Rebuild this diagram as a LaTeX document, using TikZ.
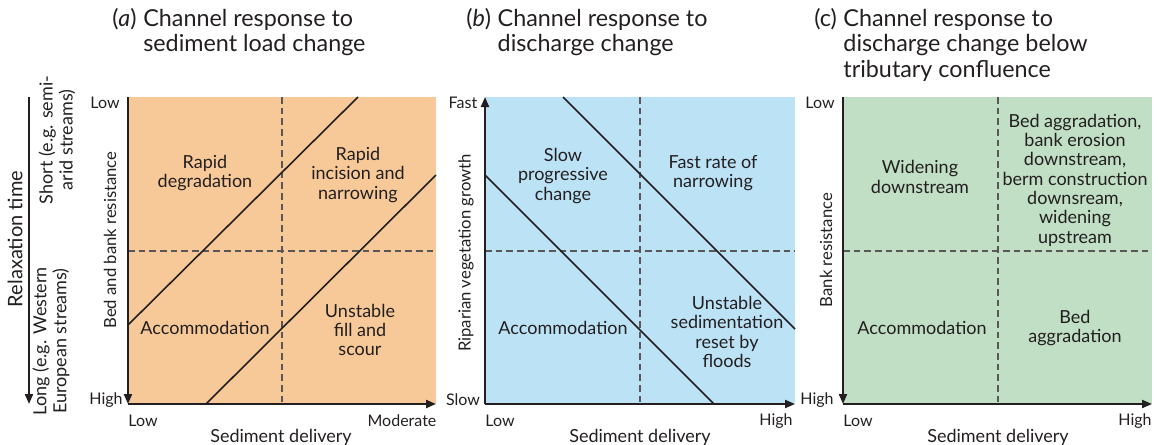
\documentclass[tikz,border=0pt]{standalone}
\usepackage{fontspec}
\setmainfont{Lato}
\usepackage{xcolor}
\usetikzlibrary{arrows.meta}
\definecolor{sandfill}{RGB}{247,201,153}
\definecolor{skyfill}{RGB}{188,226,246}
\definecolor{mossfill}{RGB}{192,223,197}
\definecolor{ink}{RGB}{35,31,32}

\begin{document}
\begin{tikzpicture}[x=0.75pt,y=-0.75pt,>={Triangle[length=7.5pt,width=6pt]},
  axis/.style={line width=1.5pt,->,draw=ink},
  quad/.style={line width=1.1pt,draw=ink!75,dash pattern=on 5pt off 3pt},
  trend/.style={line width=1.2pt,draw=ink},
  lab/.style={font=\fontsize{13.5}{14.5}\selectfont,align=center,text=ink,inner sep=0pt},
  tck/.style={font=\fontsize{12}{14}\selectfont,text=ink,inner sep=0pt},
  side/.style={font=\fontsize{12.5}{14.5}\selectfont,align=center,text=ink,rotate=90,inner sep=0pt},
  ttl/.style={font=\fontsize{17.5}{19}\selectfont,text=ink,anchor=north west,inner sep=0pt}]
\useasboundingbox (0,0) rectangle (1158,444);

% titles
\node[ttl] (ttlA) at (112,8) {\begin{tabular}{@{}l@{\hspace{5pt}}l@{}}(\textit{a}) & Channel response to\\ & sediment load change\end{tabular}};
\node[ttl] (ttlB) at (466,8) {\begin{tabular}{@{}l@{\hspace{5pt}}l@{}}(\textit{b}) & Channel response to\\ & discharge change\end{tabular}};
\node[ttl] (ttlC) at (814,8) {\begin{tabular}{@{}l@{\hspace{5pt}}l@{}}(c) & Channel response to\\ & discharge change below\\ & tributary confluence\end{tabular}};

% relaxation time axis
\coordinate (rtTop) at (29,97);
\coordinate (rtBot) at (29,404);
\draw[axis] (rtTop) -- (rtBot);
\node[side,font=\fontsize{15}{17}\selectfont] (rtLab) at (15,239) {Relaxation time};
\node[side,font=\fontsize{13.5}{15}\selectfont] (rtShort) at (57,140) {Short (e.g. semi-\\arid streams)};
\node[side,font=\fontsize{13.5}{15}\selectfont] (rtLong) at (51,341) {Long (e.g. Western\\European streams)};

% (a) sediment load change
\coordinate (aNW) at (128,97);
\coordinate (aSW) at (128,404);
\coordinate (aSE) at (436,404);
\fill[sandfill] (aNW) rectangle (aSE);
\draw[quad] (282,97) -- (282,404);
\draw[quad] (128,251) -- (436,251);
\draw[trend] (128,325) -- (358,97);
\draw[trend] (206,404) -- (436,175);
\draw[axis] (aNW) -- (aSW);
\draw[axis] (aSW) -- (aSE);
\node[tck] (aLow) at (105,103) {Low};
\node[tck] (aHigh) at (106,400) {High};
\node[tck] (aXlow) at (143,421) {Low};
\node[tck] (aXmod) at (402,421) {Moderate};
\node[lab] (aXlab) at (281,437) {Sediment delivery};
\node[side] (aYlab) at (110,240) {Bed and bank resistance};
\node[lab] (degr) at (205,173) {Rapid\\degradation};
\node[lab] (incis) at (358,175) {Rapid\\incision and\\narrowing};
\node[lab] (accA) at (205,328) {Accommodation};
\node[lab] (scour) at (360,330) {Unstable\\fill and\\scour};

% (b) discharge change
\coordinate (bNW) at (485,97);
\coordinate (bSW) at (485,404);
\coordinate (bSE) at (795,404);
\fill[skyfill] (bNW) rectangle (bSE);
\draw[quad] (640,97) -- (640,404);
\draw[quad] (485,251) -- (795,251);
\draw[trend] (563,97) -- (795,329);
\draw[trend] (485,175) -- (714,404);
\draw[axis] (bSW) -- (bNW);
\draw[axis] (bSW) -- (bSE);
\node[tck] (bFast) at (463,103) {Fast};
\node[tck] (bSlow) at (463,400) {Slow};
\node[tck] (bXlow) at (500,421) {Low};
\node[tck] (bXhigh) at (776,421) {High};
\node[lab] (bXlab) at (640,437) {Sediment delivery};
\node[side] (bYlab) at (466,253) {Riparian vegetation growth};
\node[lab] (slowch) at (563,176) {Slow\\progressive\\change};
\node[lab] (fastn) at (713,173) {Fast rate of\\narrowing};
\node[lab] (accB) at (563,328) {Accommodation};
\node[lab] (floods) at (727,332) {Unstable\\sedimentation\\reset by\\floods};

% (c) below tributary confluence
\coordinate (cNW) at (843,97);
\coordinate (cSW) at (843,404);
\coordinate (cSE) at (1152,404);
\fill[mossfill] (cNW) rectangle (cSE);
\draw[quad] (998,97) -- (998,404);
\draw[quad] (843,251) -- (1152,251);
\draw[axis] (cNW) -- (cSW);
\draw[axis] (cSW) -- (cSE);
\node[tck] (cLow) at (820,103) {Low};
\node[tck] (cHigh) at (817,400) {High};
\node[tck] (cXlow) at (858,421) {Low};
\node[tck] (cXhigh) at (1135,421) {High};
\node[lab] (cXlab) at (998,437) {Sediment delivery};
\node[side] (cYlab) at (826,250) {Bank resistance};
\node[lab] (widen) at (920,177) {Widening\\downstream};
\node[lab] (berm) at (1075,180) {Bed aggradation,\\bank erosion\\downstream,\\berm construction\\downsream,\\widening\\upstream};
\node[lab] (accC) at (922,328) {Accommodation};
\node[lab] (bedag) at (1075,328) {Bed\\aggradation};
\end{tikzpicture}
\end{document}
